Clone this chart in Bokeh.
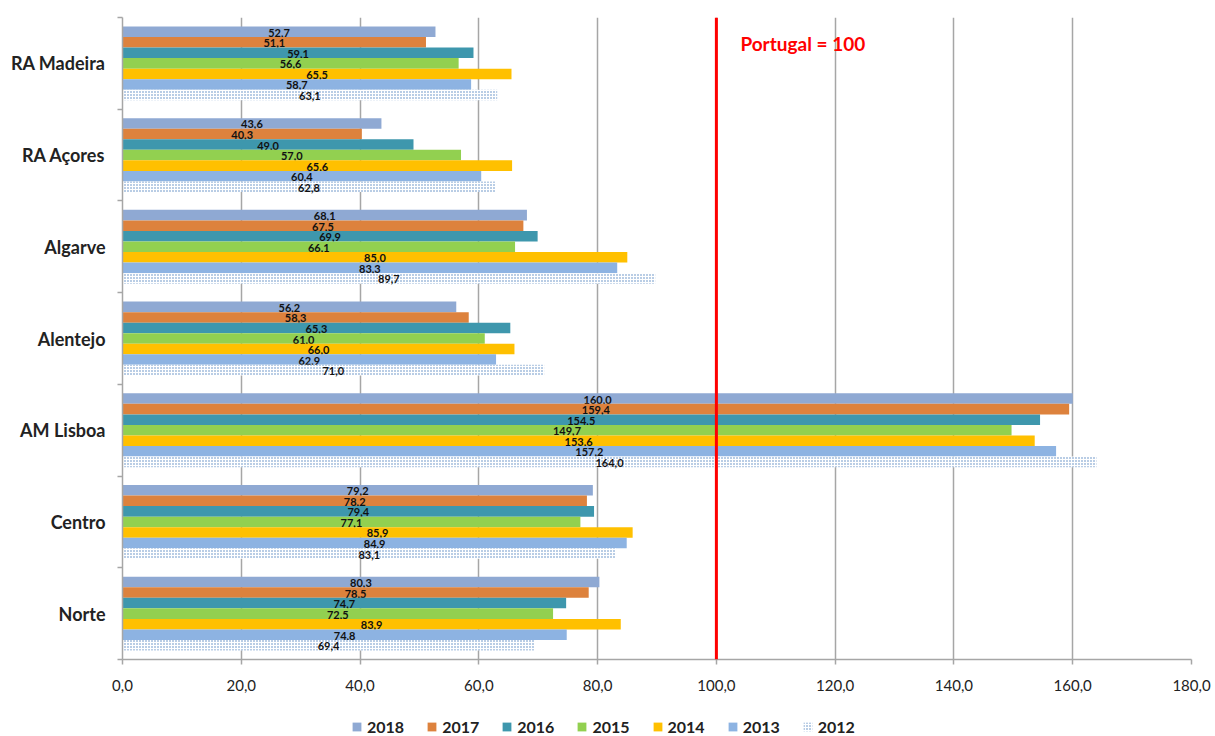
from bokeh.plotting import figure
from bokeh.layouts import column
from bokeh.models import (Range1d, LinearAxis, FixedTicker, Span, Label, Legend, LegendItem,
                          ColumnDataSource)
from bokeh.transform import dodge
from bokeh.core.properties import value
from bokeh.embed import file_html
from bokeh.resources import INLINE

# Regional GDP per capita index (Portugal = 100), listed top to bottom
regions = ["RA Madeira", "RA Açores", "Algarve", "Alentejo", "AM Lisboa", "Centro", "Norte"]
years = ["2018", "2017", "2016", "2015", "2014", "2013", "2012"]

v2018 = [52.7, 43.6, 68.1, 56.2, 160.0, 79.2, 80.3]
v2017 = [51.1, 40.3, 67.5, 58.3, 159.4, 78.2, 78.5]
v2016 = [59.1, 49.0, 69.9, 65.3, 154.5, 79.4, 74.7]
v2015 = [56.6, 57.0, 66.1, 61.0, 149.7, 77.1, 72.5]
v2014 = [65.5, 65.6, 85.0, 66.0, 153.6, 85.9, 83.9]
v2013 = [58.7, 60.4, 83.3, 62.9, 157.2, 84.9, 74.8]
v2012 = [63.1, 62.8, 89.7, 71.0, 164.0, 83.1, 69.4]

series = [v2018, v2017, v2016, v2015, v2014, v2013, v2012]
colors = ["#8FA9D3", "#DD823D", "#3E97AD", "#92D050", "#FFC000", "#8DB3E2", "#FFFFFF"]

PT_REF = 100
x_ticks = list(range(0, 181, 20))

FONT = "Lato"
GRID = "#A6A6A6"
DOT = "#4F81BD"

n = len(regions)
# slot centres: first region at the top
centres = [n - 1 - i + 0.5 for i in range(n)]
bounds = list(range(n + 1))

p = figure(width=1215, height=705, output_backend="svg", toolbar_location=None,
           y_range=Range1d(0, n), x_range=Range1d(0, 180),
           y_axis_location=None, x_axis_location=None,
           min_border_left=122, min_border_right=24, min_border_top=17, min_border_bottom=46)
p.outline_line_color = None
p.background_fill_color = "white"
p.border_fill_color = "white"

# x axis with comma decimals
xaxis = LinearAxis(ticker=FixedTicker(ticks=x_ticks),
                   major_label_overrides={t: f"{t:.1f}".replace(".", ",") for t in x_ticks})
xaxis.axis_line_color = GRID
xaxis.axis_line_width = 1.5
xaxis.major_tick_line_color = GRID
xaxis.major_tick_line_width = 1.5
xaxis.major_tick_in = 0
xaxis.major_tick_out = 5
xaxis.minor_tick_line_color = None
xaxis.major_label_text_font = FONT
xaxis.major_label_text_font_size = "15px"
xaxis.major_label_text_color = "#222222"
xaxis.major_label_standoff = 15
p.add_layout(xaxis, "below")

p.xgrid.ticker = FixedTicker(ticks=x_ticks)
p.xgrid.grid_line_color = GRID
p.xgrid.grid_line_width = 1.5
p.ygrid.grid_line_color = None

# boundary ticks between region groups (no labels)
tick_axis = LinearAxis(ticker=FixedTicker(ticks=bounds),
                       major_label_overrides={b: "" for b in bounds})
tick_axis.axis_line_color = GRID
tick_axis.axis_line_width = 1.5
tick_axis.major_tick_line_color = GRID
tick_axis.major_tick_line_width = 1.5
tick_axis.major_tick_in = 0
tick_axis.major_tick_out = 5
tick_axis.minor_tick_line_color = None
tick_axis.major_label_standoff = 0
p.add_layout(tick_axis, "left")

# region names at slot centres
name_axis = LinearAxis(ticker=FixedTicker(ticks=centres),
                       major_label_overrides={c: r for c, r in zip(centres, regions)})
name_axis.axis_line_color = None
name_axis.major_tick_line_color = None
name_axis.minor_tick_line_color = None
name_axis.major_label_text_font = FONT
name_axis.major_label_text_font_style = "bold"
name_axis.major_label_text_font_size = "18px"
name_axis.major_label_text_color = "#222222"
name_axis.major_label_standoff = 6
p.add_layout(name_axis, "left")

# legend strip underneath the chart (its frame lines up with the chart frame)
leg = figure(width=1215, height=31, output_backend="svg", toolbar_location=None,
             x_range=Range1d(0, 1), y_range=Range1d(0, 1), x_axis_location=None,
             y_axis_location=None, min_border=0)
leg.outline_line_color = None
leg.grid.grid_line_color = None
leg.border_fill_color = "white"

h = 0.115
items = []
for j, (yr, vals, col) in enumerate(zip(years, series, colors)):
    off = (3 - j) * h
    src = ColumnDataSource(dict(pos=centres, val=vals, mid=[v / 2 for v in vals],
                                lab=[f"{v:.1f}".replace(".", ",") for v in vals]))
    if yr == "2012":
        style = dict(fill_color="white", line_color=None, hatch_pattern="dot",
                     hatch_color=DOT, hatch_scale=3, hatch_weight=1.3)
    else:
        style = dict(fill_color=col, line_color=None)
    p.hbar(y=dodge("pos", off), right="val", left=0, height=h, source=src, **style)
    p.text(x="mid", y=dodge("pos", off), text="lab", source=src,
           text_font=value(FONT), text_font_style="bold", text_font_size="11px",
           text_align="center", text_baseline="middle", text_color="#111111", y_offset=1)
    # key swatch: a single off-range row so the legend has a glyph to sample
    key = leg.hbar(y=[-5], right=[0], left=0, height=0.1, **style)
    items.append(LegendItem(label=yr, renderers=[key]))

# national reference line
p.add_layout(Span(location=PT_REF, dimension="height", line_color="#FF0000", line_width=3))
p.add_layout(Label(x=PT_REF, y=616, y_units="screen", x_offset=24, text=f"Portugal = {PT_REF}",
                   text_font=FONT, text_font_style="bold", text_font_size="19px",
                   text_color="#FF0000", text_baseline="middle"))

legend = Legend(items=items, orientation="horizontal", location=(229, 0))
legend.border_line_color = None
legend.background_fill_alpha = 0
legend.label_text_font = FONT
legend.label_text_font_style = "bold"
legend.label_text_font_size = "16px"
legend.label_text_color = "#222222"
legend.glyph_width = 11
legend.glyph_height = 11
legend.label_standoff = 5
legend.spacing = 22
legend.padding = 2
legend.margin = 0
leg.add_layout(legend, "center")

layout = column(p, leg, spacing=0)
open("out.html", "w").write(file_html(layout, INLINE))
